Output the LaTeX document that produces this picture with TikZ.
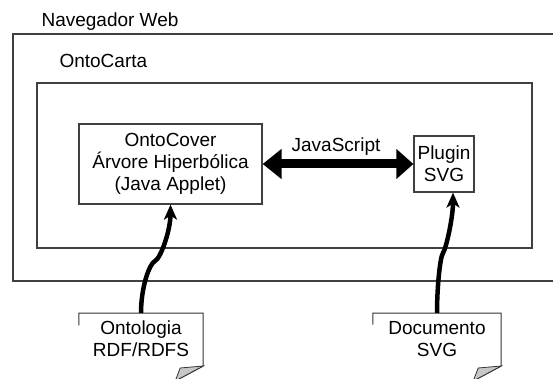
\documentclass[tikz,border=0pt]{standalone}
\usepackage{fontspec}
\setmainfont{Liberation Sans}
\usepackage{tikz}
\usetikzlibrary{arrows.meta, positioning, calc}

\begin{document}
\begin{tikzpicture}[x=1pt, y=-1pt,
  every node/.style={font=\fontsize{19}{22}\selectfont},
  frame/.style={draw=black!75, line width=1.2pt, inner sep=0pt},
  module/.style={frame, align=center, inner sep=2pt},
  page/.style={draw=black!80, line width=1pt},
  curl/.style={draw=black!80, line width=0.8pt, fill=black!22},
  dataflow/.style={line width=4.5pt, -{Stealth[length=15pt, width=13pt, inset=4pt]}},
  jsbridge/.style={line width=9pt, {Triangle[length=19pt, width=29pt]}-{Triangle[length=17pt, width=29pt]}}]
  \useasboundingbox (0,0) rectangle (553,379);
  \fill[white] (0,0) rectangle (553,379);
  \clip (0,0) rectangle (553,379);

  % browser and OntoCarta frames
  \node[frame, minimum width=562pt, minimum height=247pt] (nav) at (294,157.5) {};
  \node[anchor=base west] (navlabel) at (38,27) {Navegador Web};
  \node[frame, minimum width=495pt, minimum height=165pt] (carta) at (284.5,165.5) {};
  \node[anchor=base west] (cartalabel) at (56,68) {OntoCarta};

  % modules
  \node[module, minimum width=183pt, minimum height=80pt] (cover) at (170.5,164) {OntoCover\\\'Arvore Hiperb\'olica\\(Java Applet)};
  \node[module, minimum width=60pt, minimum height=56pt] (plugin) at (444,164) {Plugin\\SVG};
  \draw[jsbridge] (cover.east) -- (plugin.west);
  \node[anchor=base] (js) at (336,152) {JavaScript};

  % documents
  \node[anchor=north, minimum width=124pt, align=center, inner ysep=8pt] (onto) at (141,313) {Ontologia\\RDF/RDFS};
  \node[anchor=north, minimum width=128pt, align=center, inner ysep=8pt] (svgdoc) at (437,313) {Documento\\SVG};
  \foreach \d in {onto, svgdoc}{
    \draw[page] ([yshift=40pt]\d.south west) -- (\d.north west) -- (\d.north east) -- ++(0,53) -- ++(-28,15);
    \draw[curl] ($(\d.north east)+(0,53)$) -- ++(-23,2) -- ++(-5,13) -- cycle;
  }

  % data flow
  \draw[dataflow] (onto.north) .. controls +(0,-25) and +(-6,3) .. ++(14,-52)
    .. controls +(6,-3) and +(0,25) .. (cover.south);
  \draw[dataflow] (svgdoc.north) .. controls +(0,-25) and +(-3,4) .. ++(6,-60)
    .. controls +(3,-4) and +(0,25) .. ([xshift=9pt]plugin.south);
\end{tikzpicture}
\end{document}
